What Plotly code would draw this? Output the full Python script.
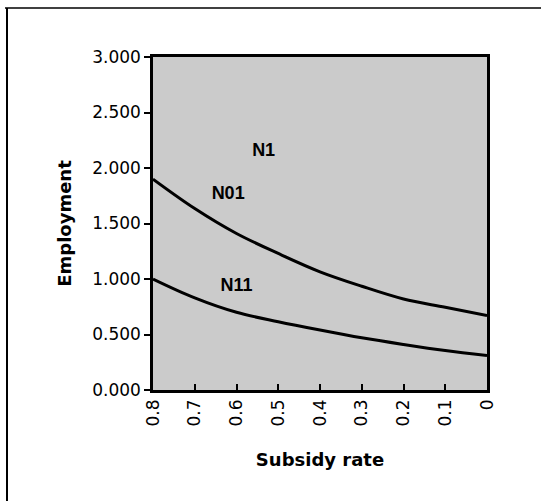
import plotly.graph_objects as go

subsidy = [0.8, 0.7, 0.6, 0.5, 0.4, 0.3, 0.2, 0.1, 0.0]
n01 = [1.90, 1.635, 1.41, 1.23, 1.065, 0.935, 0.82, 0.745, 0.67]
n11 = [1.00, 0.83, 0.70, 0.615, 0.54, 0.47, 0.41, 0.355, 0.31]

label_text = ["N1", "N01", "N11"]
label_x = [0.535, 0.62, 0.60]
label_y = [2.15, 1.76, 0.93]

x_ticks = [0.8, 0.7, 0.6, 0.5, 0.4, 0.3, 0.2, 0.1, 0.0]
x_ticktext = ["0.8", "0.7", "0.6", "0.5", "0.4", "0.3", "0.2", "0.1", "0"]
y_ticks = [0, 0.5, 1.0, 1.5, 2.0, 2.5, 3.0]

fig = go.Figure()
for ys in (n01, n11):
    fig.add_trace(go.Scatter(x=subsidy, y=ys, mode="lines",
                             line=dict(color="black", width=3, shape="spline"),
                             showlegend=False, hoverinfo="skip"))
fig.add_trace(go.Scatter(x=label_x, y=label_y, mode="text", text=label_text,
                         textfont=dict(family="Liberation Sans", size=18, color="black",
                                       weight="bold"),
                         showlegend=False, hoverinfo="skip"))

fig.update_layout(
    width=541, height=501,
    margin=dict(l=153, r=54, t=57, b=111),
    paper_bgcolor="white",
    plot_bgcolor="#cbcbcb",
    font=dict(family="DejaVu Sans", size=17, color="black"),
    xaxis=dict(range=[0.8, 0.0], tickvals=x_ticks, ticktext=x_ticktext,
               tickangle=-90, ticks="inside", ticklen=6, tickwidth=2, tickcolor="black",
               ticksuffix="\u00a0",
               tickfont=dict(family="DejaVu Sans", size=17),
               showgrid=False, zeroline=False, showline=True, linecolor="black",
               linewidth=2.5, mirror=True,
               title=dict(text="<b>Subsidy rate</b>", standoff=28,
                          font=dict(family="DejaVu Sans", size=18))),
    yaxis=dict(range=[0, 3.0], tickvals=y_ticks, tickformat=".3f",
               ticks="outside", ticklen=6, tickwidth=2, tickcolor="black",
               ticksuffix="\u00a0",
               tickfont=dict(family="DejaVu Sans", size=17),
               showgrid=False, zeroline=False, showline=True, linecolor="black",
               linewidth=2.5, mirror=True,
               title=dict(text="<b>Employment</b>", standoff=16,
                          font=dict(family="DejaVu Sans", size=18))),
    shapes=[
        dict(type="line", xref="paper", yref="paper",
             x0=(5 - 153) / 334, x1=(541 - 153) / 334,
             y0=(390 - 8) / 333, y1=(390 - 8) / 333,
             line=dict(color="black", width=1.5)),
        dict(type="line", xref="paper", yref="paper",
             x0=(7 - 153) / 334, x1=(7 - 153) / 334,
             y0=(390 - 8) / 333, y1=(390 - 501) / 333,
             line=dict(color="black", width=2)),
    ],
)

fig.write_html("out.html")
